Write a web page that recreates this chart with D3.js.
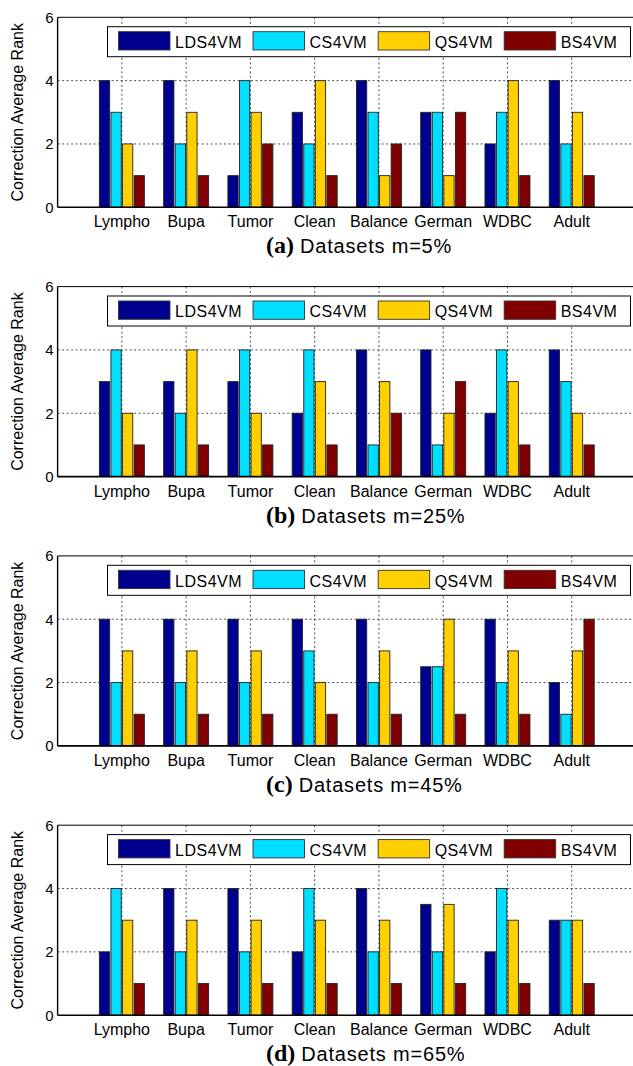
<!DOCTYPE html>
<html>
<head>
<meta charset="utf-8">
<title>Correction Average Rank</title>
<script src="https://d3js.org/d3.v7.min.js"></script>
<style>
  body { margin: 0; background: #fff; }
  svg text { font-family: "Liberation Sans", Arial, Helvetica, sans-serif; fill: #000; }
</style>
</head>
<body>
<svg id="chart" width="633" height="1066"></svg>
<script>
// datasets on the x axis
var categories = ["Lympho", "Bupa", "Tumor", "Clean", "Balance", "German", "WDBC", "Adult"];
// the four methods, one bar each per dataset
var methods = ["LDS4VM", "CS4VM", "QS4VM", "BS4VM"];
var colors = ["#00008f", "#00dfff", "#ffcf00", "#800000"];
var yTicks = [0, 2, 4, 6];

// ranks per dataset: [LDS4VM, CS4VM, QS4VM, BS4VM]
var rankM5 = [[4,3,2,1],[4,2,3,1],[1,4,3,2],[3,2,4,1],[4,3,1,2],[3,3,1,3],[2,3,4,1],[4,2,3,1]];
var rankM25 = [[3,4,2,1],[3,2,4,1],[3,4,2,1],[2,4,3,1],[4,1,3,2],[4,1,2,3],[2,4,3,1],[4,3,2,1]];
var rankM45 = [[4,2,3,1],[4,2,3,1],[4,2,3,1],[4,3,2,1],[4,2,3,1],[2.5,2.5,4,1],[4,2,3,1],[2,1,3,4]];
var rankM65 = [[2,4,3,1],[4,2,3,1],[4,2,3,1],[2,4,3,1],[4,2,3,1],[3.5,2,3.5,1],[2,4,3,1],[3,3,3,1]];

var panelTags = ["(a)", "(b)", "(c)", "(d)"];
var panelTitles = ["Datasets m=5%", "Datasets m=25%", "Datasets m=45%", "Datasets m=65%"];
var panelData = [rankM5, rankM25, rankM45, rankM65];

var svg = d3.select("#chart");
var plotH = 190;

var x = d3.scaleLinear().domain([0, 9]).range([57.6, 636]);
var y = d3.scaleLinear().domain([0, 6]).range([plotH, 0]);
var barW = x(0.16) - x(0);

panelData.forEach(function(data, p) {
  var top = 17.3 + p * 269.3;
  var g = svg.append("g").attr("transform", "translate(0," + top + ")");

  // dotted grid
  g.selectAll(".vgrid").data(categories).enter().append("line")
    .attr("x1", function(d, i) { return x(i + 1); })
    .attr("x2", function(d, i) { return x(i + 1); })
    .attr("y1", 0).attr("y2", plotH)
    .attr("stroke", "#222").attr("stroke-width", 0.8)
    .attr("stroke-dasharray", "2,2.5");
  g.selectAll(".hgrid").data([2, 4]).enter().append("line")
    .attr("x1", x(0)).attr("x2", x(9))
    .attr("y1", function(d) { return y(d); })
    .attr("y2", function(d) { return y(d); })
    .attr("stroke", "#222").attr("stroke-width", 0.8)
    .attr("stroke-dasharray", "2,2.5");

  // bars
  var groups = g.selectAll(".grp").data(data).enter().append("g");
  groups.selectAll("rect").data(function(d, i) {
      return d.map(function(v, j) { return {cat: i, m: j, v: v}; });
    })
    .enter().append("rect")
    .attr("x", function(d) { return x(d.cat + 1 + (d.m - 1.5) * 0.18) - barW / 2; })
    .attr("width", barW)
    .attr("y", function(d) { return y(d.v); })
    .attr("height", function(d) { return y(0) - y(d.v); })
    .attr("fill", function(d) { return colors[d.m]; })
    .attr("stroke", "#222").attr("stroke-width", 0.9);

  // frame
  g.append("line").attr("x1", x(0)).attr("x2", x(9)).attr("y1", 0).attr("y2", 0)
    .attr("stroke", "#000").attr("stroke-width", 1);
  g.append("line").attr("x1", x(0)).attr("x2", x(9)).attr("y1", plotH).attr("y2", plotH)
    .attr("stroke", "#000").attr("stroke-width", 1.6);
  g.append("line").attr("x1", x(0)).attr("x2", x(0)).attr("y1", 0).attr("y2", plotH)
    .attr("stroke", "#000").attr("stroke-width", 1.4);

  // y axis labels
  g.selectAll(".ytick").data(yTicks).enter().append("text")
    .attr("x", x(0) - 4)
    .attr("y", function(d) { return y(d) + 5.5; })
    .attr("text-anchor", "end")
    .style("font-size", "15px")
    .text(function(d) { return d; });

  // x axis labels
  g.selectAll(".xtick").data(categories).enter().append("text")
    .attr("x", function(d, i) { return x(i + 1); })
    .attr("y", plotH + 20)
    .attr("text-anchor", "middle")
    .style("font-size", "16px")
    .text(function(d) { return d; });

  g.append("text")
    .attr("transform", "translate(23," + (plotH / 2) + ") rotate(-90)")
    .attr("text-anchor", "middle")
    .style("font-size", "16px")
    .text("Correction Average Rank");

  // legend
  var lg = g.append("g").attr("transform", "translate(107.5,9.4)");
  lg.append("rect").attr("width", 523).attr("height", 30)
    .attr("fill", "#fff").attr("stroke", "#000").attr("stroke-width", 1);
  var lx = 11;
  methods.forEach(function(m, j) {
    lg.append("rect").attr("x", lx).attr("y", 5).attr("width", 51.5).attr("height", 18.3)
      .attr("fill", colors[j]).attr("stroke", "#333").attr("stroke-width", 0.9);
    var t = lg.append("text").attr("x", lx + 56.5).attr("y", 21.3)
      .style("font-size", "16px").style("letter-spacing", "0.5px")
      .text(m);
    lx = lx + 56.5 + t.node().getComputedTextLength() + 11;
  });

  // caption
  var cap = g.append("text").attr("x", 266).attr("y", plotH + 46);
  cap.append("tspan")
    .style("font-family", "'Liberation Serif', 'Times New Roman', serif")
    .style("font-weight", "bold").style("font-size", "24px")
    .text(panelTags[p]);
  cap.append("tspan").attr("dx", 6)
    .style("font-size", "20px").style("letter-spacing", "0.8px")
    .text(panelTitles[p]);
});
</script>
</body>
</html>
